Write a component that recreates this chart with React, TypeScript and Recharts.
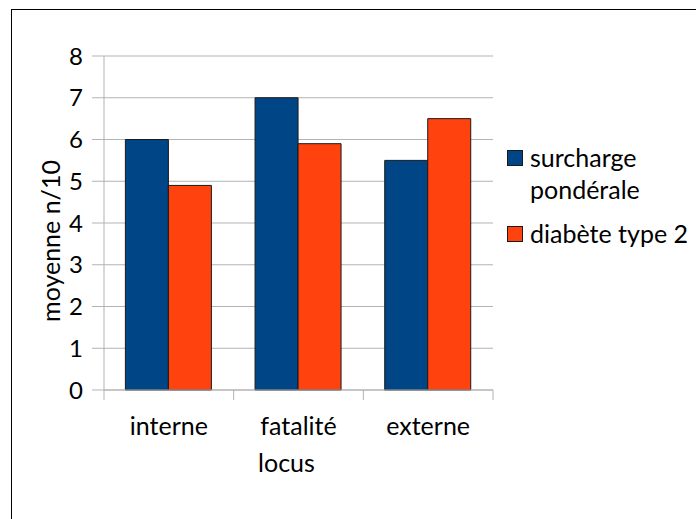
import { BarChart, Bar, XAxis, YAxis, CartesianGrid, Legend } from 'recharts';

const categories = ['interne', 'fatalité', 'externe'];
const surcharge = [6, 7, 5.5];
const diabete = [4.9, 5.9, 6.5];
const yTicks = [0, 1, 2, 3, 4, 5, 6, 7, 8];

const seriesNames = ['surcharge pondérale', 'diabète type 2'];
const colors = ['#004586', '#ff420e'];

const data = categories.map((c, i) => ({ cat: c, s: surcharge[i], d: diabete[i] }));

const FONT = 'Lato, "Open Sans", sans-serif';
const GRID = '#b3b3b3';
const W = 696;
const H = 519;
const M = { top: 56, right: 203, bottom: 69, left: 0 };
const Y_W = 104;
const PLOT_W = W - M.left - M.right - Y_W;

function CatTick({ x, y, payload, index }: any) {
  const half = PLOT_W / categories.length / 2;
  return (
    <g>
      <line x1={x - half} x2={x - half} y1={y} y2={y + 10} stroke={GRID} />
      {index === categories.length - 1 && (
        <line x1={x + half} x2={x + half} y1={y} y2={y + 10} stroke={GRID} />
      )}
      <text x={x} y={y + 45} textAnchor="middle" fontSize={25} fontFamily={FONT} fill="#000">
        {payload.value}
      </text>
    </g>
  );
}

function LegendBox() {
  return (
    <div style={{ fontFamily: FONT, fontSize: 25, color: '#000', lineHeight: '32px' }}>
      {seriesNames.map((n, i) => (
        <div key={n} style={{ display: 'flex', alignItems: 'flex-start', marginBottom: 12 }}>
          <span
            style={{
              display: 'inline-block',
              width: 14,
              height: 14,
              background: colors[i],
              border: '1px solid #1a1a1a',
              marginTop: 9,
              marginRight: 7,
              flexShrink: 0,
            }}
          />
          <span style={{ width: i === 0 ? 130 : 175, whiteSpace: i === 0 ? 'normal' : 'nowrap' }}>{n}</span>
        </div>
      ))}
    </div>
  );
}

export default function App() {
  return (
    <div style={{ position: 'absolute', left: 0, top: 0, width: W, height: H, overflow: 'hidden', background: '#fff' }}>
      <div
        style={{
          position: 'absolute',
          left: 11,
          top: 9,
          width: W,
          height: H,
          border: '1px solid #000',
        }}
      />
      <div style={{ position: 'absolute', left: 0, top: 0 }}>
        <BarChart width={W} height={H} data={data} margin={M} barGap={0} barCategoryGap="16.5%">
          <CartesianGrid vertical={false} stroke={GRID} yAxisId="l" />
          <XAxis
            dataKey="cat"
            height={60}
            axisLine={{ stroke: GRID }}
            tickLine={false}
            tickSize={0}
            tickMargin={0}
            tick={<CatTick />}
            interval={0}
            label={{
              content: ({ viewBox }: any) => (
                <text
                  x={viewBox.x + viewBox.width / 2 - 12}
                  y={viewBox.y + 82}
                  textAnchor="middle"
                  fontSize={25}
                  fontFamily={FONT}
                  fill="#000"
                >
                  locus
                </text>
              ),
            }}
          />
          <YAxis
            yAxisId="l"
            width={Y_W}
            domain={[0, 8]}
            ticks={yTicks}
            interval={0}
            tickSize={12}
            tickMargin={9}
            axisLine={{ stroke: GRID }}
            tickLine={{ stroke: GRID }}
            tick={{ fontSize: 24, fontFamily: FONT, fill: '#000' }}
            label={{
              content: ({ viewBox }: any) => {
                const cx = 60;
                const cy = viewBox.y + viewBox.height / 2 + 18;
                return (
                  <text
                    x={cx}
                    y={cy}
                    transform={`rotate(-90 ${cx} ${cy})`}
                    textAnchor="middle"
                    fontSize={25}
                    fontFamily={FONT}
                    fill="#000"
                  >
                    moyenne n/10
                  </text>
                );
              },
            }}
          />
          <YAxis yAxisId="r" orientation="right" width={0} domain={[0, 8]} tick={false} tickLine={false} axisLine={{ stroke: GRID }} />
          <Legend
            layout="vertical"
            verticalAlign="middle"
            align="center"
            content={<LegendBox />}
            wrapperStyle={{ left: 507, top: 141, width: 189 }}
          />
          <Bar yAxisId="l" dataKey="s" name={seriesNames[0]} fill={colors[0]} stroke="#1a1a1a" strokeWidth={1} isAnimationActive={false} />
          <Bar yAxisId="l" dataKey="d" name={seriesNames[1]} fill={colors[1]} stroke="#1a1a1a" strokeWidth={1} isAnimationActive={false} />
        </BarChart>
      </div>
    </div>
  );
}
